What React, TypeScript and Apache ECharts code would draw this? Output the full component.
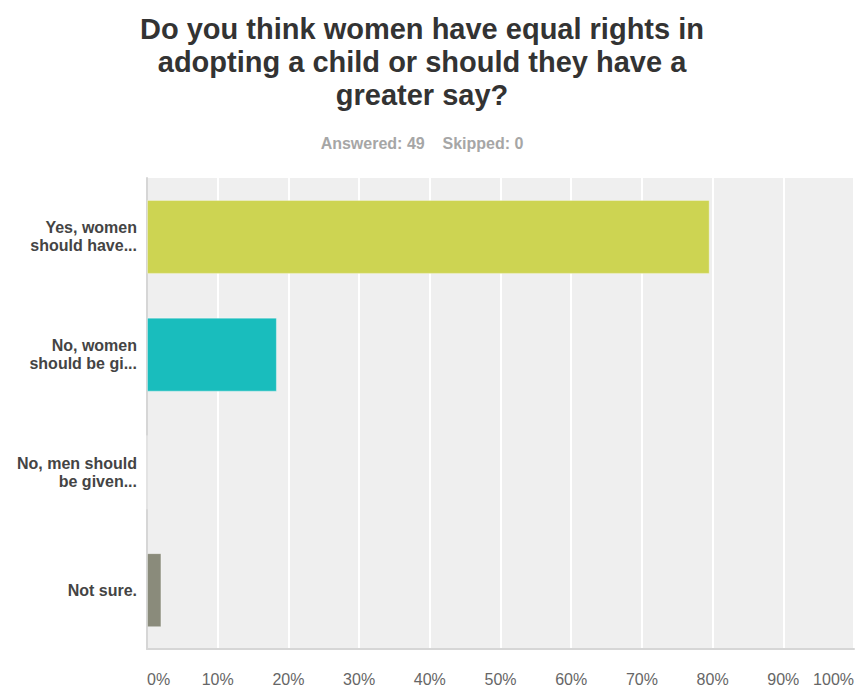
import React, { useEffect, useRef } from "react";
import * as echarts from "echarts";

const categories = [
  "Yes, women\nshould have...",
  "No, women\nshould be gi...",
  "No, men should\nbe given...",
  "Not sure.",
];
const values = [79.59, 18.37, 0, 2.04];
const barColors = ["#cdd452", "#19bdbd", "#9a9a8a", "#8a8b7b"];
const xTicks = [0, 10, 20, 30, 40, 50, 60, 70, 80, 90, 100];
const titleText = "Do you think women have equal rights in\nadopting a child or should they have a\ngreater say?";
const subText = "Answered: 49    Skipped: 0";

export default function App() {
  const ref = useRef<HTMLDivElement>(null);
  useEffect(() => {
    const chart = echarts.init(ref.current!, null, { renderer: "svg" });
    chart.setOption({
      animation: false,
      backgroundColor: "#ffffff",
      title: [
        {
          text: titleText,
          left: 417,
          top: 7,
          textAlign: "center",
          textStyle: {
            fontFamily: "Liberation Sans",
            fontWeight: "bold",
            fontSize: 29,
            lineHeight: 33,
            color: "#333333",
          },
        },
        {
          text: subText,
          left: 417,
          top: 130,
          textAlign: "center",
          textStyle: {
            fontFamily: "Liberation Sans",
            fontWeight: "bold",
            fontSize: 16,
            color: "#a6a6a6",
          },
        },
      ],
      grid: {
        left: 147,
        right: -1,
        top: 178,
        bottom: 35,
        show: true,
        backgroundColor: "#efefef",
        borderWidth: 0,
      },
      xAxis: {
        type: "value",
        min: 0,
        max: 100,
        interval: 10,
        axisLine: { show: true, lineStyle: { color: "#d6d6d6", width: 2 } },
        axisTick: { show: false },
        splitLine: { show: true, lineStyle: { color: "#ffffff", width: 2 } },
        axisLabel: {
          formatter: (v: number) => (xTicks.includes(v) ? v + "%" : ""),
          fontFamily: "Liberation Sans",
          fontSize: 16,
          color: "#666666",
          margin: 22,
          alignMinLabel: "left",
          alignMaxLabel: "right",
        },
      },
      yAxis: {
        type: "category",
        data: categories,
        inverse: true,
        axisLine: { show: true, lineStyle: { color: "#d6d6d6", width: 2 } },
        axisTick: { show: false },
        splitLine: { show: false },
        axisLabel: {
          fontFamily: "Liberation Sans",
          fontWeight: "bold",
          fontSize: 16,
          lineHeight: 18,
          color: "#444444",
          margin: 10,
          align: "right",
        },
      },
      series: [
        {
          type: "bar",
          data: values.map((v, i) => ({
            value: v,
            itemStyle: { color: barColors[i] },
          })),
          barWidth: 74,
          itemStyle: { borderColor: "rgba(255,255,255,0.35)", borderWidth: 1 },
        },
      ],
    });
    return () => chart.dispose();
  }, []);
  return (
    <div
      ref={ref}
      style={{ position: "fixed", left: 0, top: 0, width: 857, height: 687 }}
    />
  );
}
